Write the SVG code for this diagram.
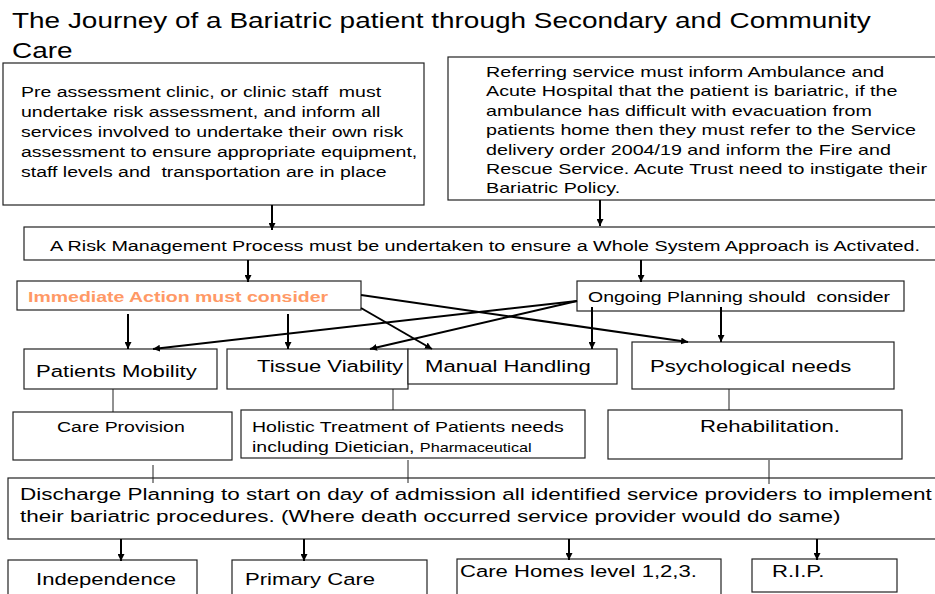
<svg xmlns="http://www.w3.org/2000/svg" width="935" height="594" viewBox="0 0 935 594">
<style>
  text { font-family: "Liberation Sans", Arial, sans-serif; fill: #000; white-space: pre; }
  .title { font-size: 21.5px; }
  .t15 { font-size: 15px; }
  .t17 { font-size: 17px; }
  .t175 { font-size: 17.3px; }
  .small { font-size: 12.5px; }
  .orange { fill: #FF9966; font-weight: bold; }
  .box { fill: #fff; stroke: #222; stroke-width: 1.2; }
  .arrow { stroke: #000; stroke-width: 2; fill: none; marker-end: url(#ah); }
  .thin { stroke: #222; stroke-width: 1; fill: none; }
</style>
<defs>
  <marker id="ah" viewBox="0 0 10 10" refX="10" refY="5" markerWidth="7" markerHeight="7" markerUnits="userSpaceOnUse" orient="auto">
    <path d="M0,0 L10,5 L0,10 z" fill="#000"/>
  </marker>
</defs>
<rect width="935" height="594" fill="#fff"/>

<g id="title">
  <text class="title" transform="translate(12 28) scale(1.3 1)"><tspan x="0">The Journey of a Bariatric patient through Secondary and Community</tspan><tspan x="0" dy="30">Care</tspan></text>
</g>

<g id="preassessment">
  <rect class="box" x="3" y="63" width="421" height="142"/>
  <text class="t15" transform="translate(21 97) scale(1.3 1)"><tspan x="0">Pre assessment clinic, or clinic staff  must</tspan><tspan x="0" dy="20">undertake risk assessment, and inform all</tspan><tspan x="0" dy="20">services involved to undertake their own risk</tspan><tspan x="0" dy="20">assessment to ensure appropriate equipment,</tspan><tspan x="0" dy="20">staff levels and  transportation are in place</tspan></text>
</g>

<g id="referring">
  <rect class="box" x="448" y="57" width="495" height="143"/>
  <text class="t15" style="font-size:15.15px" transform="translate(486 77) scale(1.3 1)"><tspan x="0">Referring service must inform Ambulance and</tspan><tspan x="0" dy="19.4">Acute Hospital that the patient is bariatric, if the</tspan><tspan x="0" dy="19.4">ambulance has difficult with evacuation from</tspan><tspan x="0" dy="19.4">patients home then they must refer to the Service</tspan><tspan x="0" dy="19.4">delivery order 2004/19 and inform the Fire and</tspan><tspan x="0" dy="19.4">Rescue Service. Acute Trust need to instigate their</tspan><tspan x="0" dy="19.4">Bariatric Policy.</tspan></text>
</g>

<g id="risk">
  <rect class="box" x="24" y="227" width="920" height="33"/>
  <text class="t15" style="font-size:15.2px" transform="translate(50 251) scale(1.3 1)">A Risk Management Process must be undertaken to ensure a Whole System Approach is Activated.</text>
</g>

<g id="immediate">
  <rect class="box" x="17" y="281" width="344" height="29"/>
  <text class="t15 orange" transform="translate(28 302) scale(1.3 1)">Immediate Action must consider</text>
</g>

<g id="ongoing">
  <rect class="box" x="577" y="281" width="327" height="30"/>
  <text class="t15" transform="translate(588 302) scale(1.3 1)">Ongoing Planning should  consider</text>
</g>

<g id="mobility">
  <rect class="box" x="24" y="349" width="193" height="40"/>
  <text class="t17" transform="translate(36 377) scale(1.3 1)">Patients Mobility</text>
</g>

<g id="tissue">
  <rect class="box" x="227" y="349" width="181" height="40"/>
  <text class="t17" transform="translate(257 372) scale(1.3 1)">Tissue Viability</text>
</g>

<g id="manual">
  <rect class="box" x="408" y="349" width="209" height="35"/>
  <text class="t17" transform="translate(425 372) scale(1.3 1)">Manual Handling</text>
</g>

<g id="psych">
  <rect class="box" x="632" y="342" width="262" height="47"/>
  <text class="t17" transform="translate(650 372) scale(1.3 1)">Psychological needs</text>
</g>

<g id="careprovision">
  <rect class="box" x="13" y="412" width="219" height="48"/>
  <text class="t15" transform="translate(57 432) scale(1.3 1)">Care Provision</text>
</g>

<g id="holistic">
  <rect class="box" x="241" y="410" width="344" height="48"/>
  <text class="t15" transform="translate(252 432) scale(1.3 1)"><tspan x="0">Holistic Treatment of Patients needs</tspan><tspan x="0" dy="20">including Dietician, <tspan class="small">Pharmaceutical</tspan></tspan></text>
</g>

<g id="rehab">
  <rect class="box" x="608" y="410" width="294" height="49"/>
  <text class="t17" transform="translate(700 432) scale(1.3 1)">Rehabilitation.</text>
</g>

<g id="discharge">
  <rect class="box" x="8" y="478" width="935" height="61"/>
  <text class="t175" transform="translate(20 500) scale(1.3 1)"><tspan x="0">Discharge Planning to start on day of admission all identified service providers to implement</tspan><tspan x="0" dy="22">their bariatric procedures. (Where death occurred service provider would do same)</tspan></text>
</g>

<g id="independence">
  <rect class="box" x="8" y="560" width="189" height="40"/>
  <text class="t17" transform="translate(36 585) scale(1.3 1)">Independence</text>
</g>

<g id="primarycare">
  <rect class="box" x="232" y="560" width="195" height="40"/>
  <text class="t17" transform="translate(245 585) scale(1.3 1)">Primary Care</text>
</g>

<g id="carehomes">
  <rect class="box" x="457" y="559" width="264" height="41"/>
  <text class="t17" transform="translate(460 577) scale(1.3 1)">Care Homes level 1,2,3.</text>
</g>

<g id="rip">
  <rect class="box" x="752" y="559" width="145" height="33"/>
  <text class="t17" transform="translate(772 577) scale(1.3 1)">R.I.P.</text>
</g>

<g id="connectors">
  <line class="arrow" x1="272" y1="205" x2="272" y2="230"/>
  <line class="arrow" x1="600" y1="200" x2="600" y2="226"/>
  <line class="arrow" x1="248" y1="260" x2="248" y2="282"/>
  <line class="arrow" x1="641" y1="260" x2="641" y2="282"/>
  <line class="arrow" x1="128" y1="314" x2="128" y2="349"/>
  <line class="arrow" x1="288" y1="314" x2="288" y2="349"/>
  <line class="arrow" x1="592" y1="307" x2="592" y2="349"/>
  <line class="arrow" x1="721" y1="307" x2="721" y2="342"/>
  <line class="arrow" x1="361" y1="295" x2="688" y2="342"/>
  <line class="arrow" x1="361" y1="308" x2="432" y2="349"/>
  <line class="arrow" x1="577" y1="301" x2="153" y2="349"/>
  <line class="arrow" x1="577" y1="301" x2="370" y2="349"/>
  <line class="thin" x1="113" y1="389" x2="113" y2="412"/>
  <line class="thin" x1="393" y1="389" x2="393" y2="410"/>
  <line class="thin" x1="729" y1="389" x2="729" y2="410"/>
  <line class="thin" x1="153" y1="465" x2="153" y2="483"/>
  <line class="thin" x1="408" y1="460" x2="408" y2="483"/>
  <line class="thin" x1="769" y1="460" x2="769" y2="484"/>
  <line class="arrow" x1="121" y1="539" x2="121" y2="561"/>
  <line class="arrow" x1="304" y1="539" x2="304" y2="561"/>
  <line class="arrow" x1="569" y1="539" x2="569" y2="560"/>
  <line class="arrow" x1="817" y1="539" x2="817" y2="560"/>
</g>
</svg>
